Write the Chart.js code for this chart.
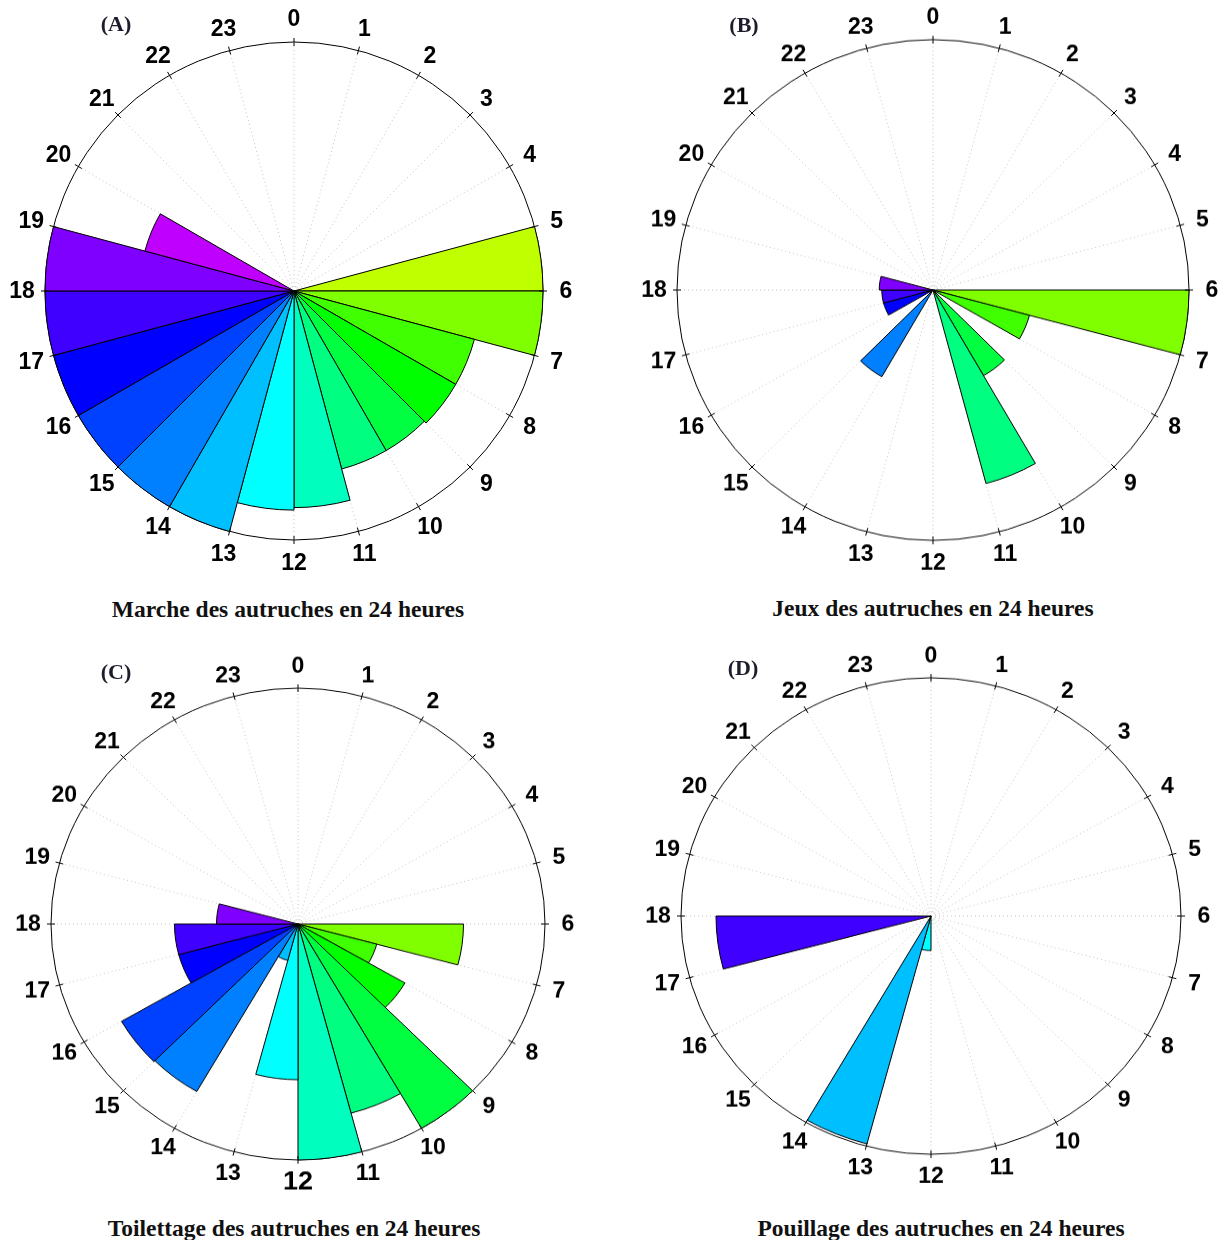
<!DOCTYPE html>
<html lang="fr">
<head>
<meta charset="utf-8">
<title>Activités des autruches en 24 heures</title>
<script src="https://cdn.jsdelivr.net/npm/chart.js@4/dist/chart.umd.min.js"></script>
<style>
  html, body { margin: 0; padding: 0; background: #fff; }
  #page { position: relative; width: 1226px; height: 1240px; overflow: hidden; }
  #page canvas { position: absolute; }
  .titre { position: absolute; font: bold 23.5px "Liberation Serif", "Times New Roman", serif; color: #111; white-space: nowrap; transform: translate(-50%, -50%); }
  .lettre { position: absolute; font: bold 22px "Liberation Serif", "Times New Roman", serif; color: #1c1c2c; transform: translate(-50%, -50%); }
</style>
</head>
<body>
<div id="page"></div>
<script>
// heures de la journée (une part par heure)
const heures = ['0', '1', '2', '3', '4', '5', '6', '7', '8', '9', '10', '11',
                '12', '13', '14', '15', '16', '17', '18', '19', '20', '21', '22', '23'];

// fréquences relatives (% du rayon) par heure
const marche     = [0, 0, 0, 0, 0, 100, 100, 75, 75, 74, 74, 87, 88, 100, 100, 100, 100, 100, 100, 62, 0, 0, 0, 0];
const jeux       = [0, 0, 0, 0, 0, 0, 100, 39, 0, 39.5, 80, 0, 0, 0, 40, 0, 20, 20, 21, 0, 0, 0, 0, 0];
const toilettage = [0, 0, 0, 0, 0, 0, 67, 33, 50, 100, 83, 100, 66, 16, 82, 82.5, 50, 50, 33, 0, 0, 0, 0, 0];
const pouillage  = [0, 0, 0, 0, 0, 0, 0, 0, 0, 0, 0, 0, 14.5, 99, 0, 0, 0, 86, 0, 0, 0, 0, 0, 0];

const titres = ['Marche des autruches en 24 heures', 'Jeux des autruches en 24 heures',
                'Toilettage des autruches en 24 heures', 'Pouillage des autruches en 24 heures'];
const lettres = ['(A)', '(B)', '(C)', '(D)'];

// palette arc-en-ciel, 15 degrés de teinte par heure
const couleurs = heures.map((h, i) => 'hsl(' + (i * 15) + ', 100%, 50%)');

const page = document.getElementById('page');

// graduations + numéros des heures autour du cercle
const heuresPlugin = {
    id: 'heures',
    afterDraw(chart, args, opts) {
        const s = chart.scales.r;
        const ctx = chart.ctx;
        const R = s.drawingArea;
        ctx.save();
        ctx.strokeStyle = '#000';
        ctx.lineWidth = 1;
        ctx.fillStyle = '#000';
        ctx.textAlign = 'center';
        ctx.textBaseline = 'middle';
        chart.data.labels.forEach((lab, i) => {
            const a = s.getPointPosition(i, R - 4);
            const b = s.getPointPosition(i, R + 4);
            ctx.beginPath();
            ctx.moveTo(a.x, a.y);
            ctx.lineTo(b.x, b.y);
            ctx.stroke();
            const taille = (lab === opts.grand) ? 27 : 23;
            ctx.font = 'bold ' + taille + 'px "Liberation Sans", Arial, sans-serif';
            const p = s.getPointPosition(i, R + opts.ecart);
            ctx.fillText(lab, p.x, p.y + 1);
        });
        ctx.restore();
    }
};

function dessinerRose(p) {
    const m = 42;
    const taille = 2 * (p.R + m);
    const canvas = document.createElement('canvas');
    canvas.width = taille;
    canvas.height = taille;
    canvas.style.width = taille + 'px';
    canvas.style.height = taille + 'px';
    canvas.style.left = (p.cx - p.R - m) + 'px';
    canvas.style.top = (p.cy - p.R - m) + 'px';
    canvas.style.transformOrigin = (p.R + m) + 'px ' + (p.R + m) + 'px';
    canvas.style.transform = 'scaleY(' + p.k + ')';
    page.appendChild(canvas);

    new Chart(canvas, {
        type: 'polarArea',
        data: {
            labels: heures,
            datasets: [{
                data: p.valeurs,
                backgroundColor: couleurs,
                borderColor: '#000',
                borderWidth: 1
            }]
        },
        options: {
            responsive: false,
            animation: false,
            devicePixelRatio: 1,
            layout: { padding: m },
            plugins: {
                legend: { display: false },
                tooltip: { enabled: false },
                heures: { ecart: 23, grand: p.grand }
            },
            scales: {
                r: {
                    min: 0,
                    max: 100,
                    startAngle: 0,
                    ticks: { display: false, stepSize: 100 },
                    grid: { circular: true, color: '#000', lineWidth: 1 },
                    angleLines: { display: true, color: '#c4c4c4', lineWidth: 1, borderDash: [1, 3] },
                    pointLabels: { display: false }
                }
            }
        },
        plugins: [heuresPlugin]
    });
}

function texte(cls, contenu, x, y) {
    const d = document.createElement('div');
    d.className = cls;
    d.textContent = contenu;
    d.style.left = x + 'px';
    d.style.top = y + 'px';
    page.appendChild(d);
}

const panneaux = [
    { valeurs: marche,     cx: 294, cy: 291, R: 249, k: 1,     titre: [288, 609],  lettre: [116, 24] },
    { valeurs: jeux,       cx: 933, cy: 290, R: 256, k: 0.978, titre: [933, 608],  lettre: [744, 25] },
    { valeurs: toilettage, cx: 298, cy: 924, R: 247, k: 0.955, titre: [294, 1228], lettre: [116, 672], grand: '12' },
    { valeurs: pouillage,  cx: 931, cy: 916, R: 250, k: 0.953, titre: [941, 1228], lettre: [743, 668] }
];

panneaux.forEach((p, i) => {
    dessinerRose(p);
    texte('titre', titres[i], p.titre[0], p.titre[1]);
    texte('lettre', lettres[i], p.lettre[0], p.lettre[1]);
});
</script>
</body>
</html>
